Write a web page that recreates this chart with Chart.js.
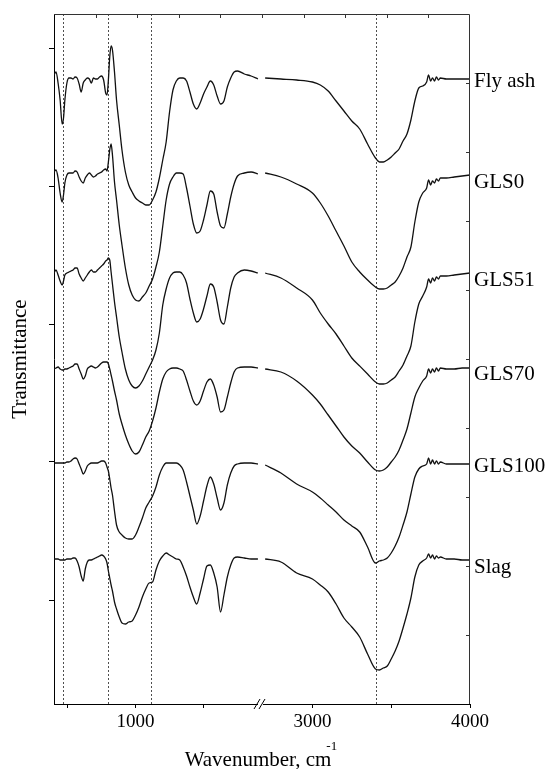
<!DOCTYPE html>
<html>
<head>
<meta charset="utf-8">
<title>FTIR spectra</title>
<script src="https://cdn.jsdelivr.net/npm/chart.js@4.4.0/dist/chart.umd.min.js"></script>
<style>
  html, body { margin: 0; padding: 0; background: #fff; }
  #chart { display: block; }
</style>
</head>
<body>
<canvas id="chart" width="550" height="769"></canvas>
<script>
// Wavenumbers (cm-1) of the sampled points, low range and high range of the broken axis
const waveLow = [400, 415, 430, 445, 460, 470, 480, 495, 510, 525, 540, 555, 570, 585, 600, 615, 630, 645,
    660, 675, 690, 705, 720, 735, 750, 765, 780, 790, 800, 810, 820, 830, 845, 860, 880, 900,
    925, 950, 975, 1000, 1025, 1050, 1075, 1100, 1125, 1150, 1175, 1200, 1225, 1250, 1275, 1300,
    1325, 1350, 1375, 1400, 1425, 1450, 1475, 1500, 1525, 1550, 1575, 1600, 1625, 1650, 1675, 1700,
    1725, 1750, 1800, 1850, 1900];
const waveHigh = [2700, 2800, 2900, 3000, 3050, 3100, 3150, 3200, 3250, 3300, 3350, 3400, 3425, 3450,
    3475, 3500, 3525, 3550, 3575, 3600, 3625, 3650, 3675, 3700,
    3725, 3737, 3750, 3762, 3775, 3787, 3800, 3812, 3850, 3900, 3950, 4000];

const seriesNames = ['Fly ash', 'GLS0', 'GLS51', 'GLS70', 'GLS100', 'Slag'];

// Transmittance (a.u., curves already offset as plotted)
const flyAshLow = [62.9, 63.2, 62.1, 60.4, 58.0, 58.6, 60.4, 62.1, 62.6, 62.6, 62.5, 62.7, 62.6, 62.0, 61.2, 62.1, 62.4, 62.6,
    62.5, 62.1, 62.6, 62.5, 62.5, 62.7, 62.8, 62.4, 61.1, 60.9, 62.4, 64.7, 65.8, 65.4, 63.2, 60.4, 57.9, 55.4,
    53.2, 51.9, 51.2, 50.6, 50.3, 50.1, 49.9, 49.9, 50.4, 51.2, 52.6, 54.4, 56.2, 59.2, 61.4, 62.3,
    62.6, 62.6, 62.3, 61.2, 60.0, 59.5, 60.1, 61.0, 61.7, 62.3, 61.9, 60.8, 60.0, 60.3, 61.7, 62.6,
    63.2, 63.3, 63.0, 62.8, 62.5];
const flyAshHigh = [62.6, 62.5, 62.4, 62.2, 61.9, 61.3, 60.3, 59.3, 58.3, 57.5, 56.0, 54.6, 54.2, 54.2,
    54.4, 54.7, 55.1, 55.5, 56.3, 57.0, 58.4, 60.3, 61.6, 61.8,
    62.2, 62.9, 62.3, 62.6, 62.3, 62.7, 62.4, 62.6, 62.5, 62.5, 62.5, 62.5];

const gls0Low = [53.2, 53.4, 52.6, 51.1, 50.2, 50.9, 52.1, 52.9, 53.1, 53.1, 53.1, 53.3, 53.2, 52.7, 52.3, 52.1, 52.6, 52.9,
    53.1, 52.9, 52.7, 52.8, 53.0, 53.1, 53.2, 53.4, 53.5, 53.3, 54.2, 55.4, 56.0, 54.9, 52.2, 50.4, 47.9, 45.9,
    43.6, 41.9, 40.9, 40.4, 40.3, 40.7, 41.1, 41.8, 42.5, 43.7, 45.2, 47.8, 50.4, 52.0, 52.7, 53.1,
    53.1, 53.0, 51.6, 49.8, 48.0, 47.1, 47.3, 48.4, 49.9, 51.3, 51.0, 49.2, 47.8, 47.6, 49.0, 50.7,
    52.0, 52.8, 53.1, 53.2, 53.0];
const gls0High = [53.1, 52.7, 52.0, 51.1, 50.1, 48.8, 47.3, 45.8, 44.2, 43.2, 42.4, 41.7, 41.5, 41.5,
    41.6, 41.9, 42.2, 42.8, 43.6, 44.7, 45.7, 48.2, 50.2, 51.1,
    51.6, 52.4, 51.9, 52.3, 52.1, 52.5, 52.3, 52.6, 52.6, 52.7, 52.8, 52.9];

const gls51Low = [43.1, 43.4, 42.9, 42.3, 41.9, 42.3, 42.9, 43.1, 43.2, 43.3, 43.4, 43.6, 43.6, 43.0, 42.6, 42.3, 42.6, 42.9,
    43.2, 43.4, 43.2, 43.2, 43.4, 43.6, 43.8, 44.0, 44.3, 44.4, 44.6, 44.4, 43.2, 42.0, 40.2, 38.7, 36.7, 35.2,
    33.5, 32.4, 31.8, 31.6, 31.8, 32.3, 33.0, 33.7, 34.4, 35.4, 37.1, 39.9, 41.5, 42.6, 43.1, 43.2,
    43.2, 42.9, 42.1, 40.5, 39.1, 38.2, 38.5, 39.5, 40.8, 42.0, 41.7, 40.2, 38.4, 38.0, 39.7, 41.6,
    42.7, 43.1, 43.4, 43.3, 43.1];
const gls51High = [43.1, 42.6, 41.6, 40.4, 39.1, 38.0, 37.0, 35.8, 34.6, 33.8, 33.0, 32.2, 32.0, 32.0,
    32.1, 32.4, 32.7, 33.3, 33.9, 34.8, 35.8, 38.2, 40.0, 40.8,
    41.7, 42.5, 42.1, 42.6, 42.3, 42.7, 42.5, 42.8, 42.8, 42.9, 43.0, 43.1];

const gls70Low = [33.5, 33.6, 33.7, 33.5, 33.4, 33.4, 33.5, 33.5, 33.6, 33.7, 33.8, 34.0, 34.0, 33.5, 33.0, 32.5, 32.8, 33.5,
    33.7, 33.8, 33.7, 33.6, 33.7, 33.9, 34.1, 34.2, 34.2, 34.2, 34.0, 33.5, 32.9, 32.3, 31.3, 30.4, 29.0, 28.0,
    26.9, 26.0, 25.3, 25.0, 25.2, 25.9, 26.7, 27.3, 28.3, 29.6, 31.2, 32.5, 33.2, 33.5, 33.6, 33.6,
    33.5, 33.3, 32.4, 31.3, 30.3, 29.9, 30.3, 31.3, 32.2, 32.5, 31.9, 30.7, 29.2, 29.4, 30.7, 32.1,
    33.2, 33.6, 33.7, 33.7, 33.6];
const gls70High = [33.5, 33.2, 32.3, 30.9, 30.0, 28.9, 27.8, 26.7, 25.8, 25.1, 24.2, 23.4, 23.3, 23.4,
    23.7, 24.2, 24.7, 25.4, 26.4, 27.5, 29.1, 30.7, 31.6, 32.3,
    32.8, 33.5, 33.1, 33.5, 33.2, 33.6, 33.3, 33.6, 33.5, 33.5, 33.6, 33.6];

const gls100Low = [24.1, 24.1, 24.1, 24.1, 24.1, 24.1, 24.1, 24.2, 24.2, 24.3, 24.5, 24.6, 24.5, 24.0, 23.5, 23.0, 23.3, 23.8,
    24.0, 24.1, 24.1, 24.1, 24.1, 24.2, 24.3, 24.3, 24.1, 23.7, 23.3, 22.5, 21.6, 20.9, 19.3, 17.9, 17.2, 16.9,
    16.6, 16.5, 16.5, 16.9, 17.7, 18.6, 19.6, 20.2, 20.8, 21.7, 22.9, 23.7, 24.1, 24.1, 24.1, 24.1,
    23.9, 23.4, 22.2, 20.8, 19.4, 18.0, 18.8, 20.3, 21.8, 22.7, 22.0, 20.6, 19.4, 20.1, 21.9, 23.1,
    23.8, 24.0, 24.1, 24.1, 24.0];
const gls100High = [23.9, 23.1, 22.0, 21.2, 20.6, 19.9, 19.2, 18.4, 17.8, 17.2, 15.7, 14.1, 14.3, 14.4,
    14.6, 15.1, 15.8, 16.7, 17.9, 19.2, 21.0, 22.7, 23.5, 23.8,
    24.0, 24.6, 24.0, 24.4, 24.0, 24.3, 24.0, 24.2, 24.0, 24.0, 24.0, 24.0];

const slagLow = [14.5, 14.5, 14.5, 14.4, 14.4, 14.4, 14.4, 14.5, 14.5, 14.5, 14.6, 14.6, 14.3, 13.7, 12.8, 12.3, 13.5, 14.2,
    14.4, 14.4, 14.5, 14.6, 14.7, 14.8, 14.9, 14.8, 14.5, 14.1, 13.3, 12.6, 11.9, 11.3, 10.2, 9.5, 8.7, 8.1,
    8.0, 8.2, 8.3, 8.9, 9.7, 10.7, 11.5, 12.1, 12.2, 13.4, 14.3, 14.8, 15.1, 14.9, 14.7, 14.5,
    14.4, 13.7, 12.8, 11.7, 10.7, 10.0, 11.1, 12.5, 13.8, 13.9, 13.1, 11.7, 9.2, 10.9, 12.7, 13.9,
    14.6, 14.7, 14.6, 14.5, 14.5];
const slagHigh = [14.5, 14.2, 13.1, 12.5, 11.9, 11.2, 10.0, 8.6, 7.7, 6.7, 5.0, 3.5, 3.4, 3.6,
    3.8, 4.5, 5.3, 6.3, 7.6, 9.0, 10.6, 12.7, 13.9, 14.3,
    14.6, 15.0, 14.6, 14.9, 14.5, 14.8, 14.6, 14.7, 14.5, 14.5, 14.4, 14.4];

// Dashed reference lines (cm-1)
const markers = [465, 795, 1110, 3405];

// Axis ticks
const xTickValues = [500, 1000, 1500, 3000, 3500, 4000];
const xTickLabels = ['', '1000', '', '3000', '', '4000'];
const yTickValues = [10.4, 24.2, 38.0, 51.8, 65.6];
const Y_MAX = 69;
const Y_MINOR = 6.9;

// Broken axis: both ranges share half of the width each
const LOW_MIN = 400, LOW_MAX = 1930, HIGH_MIN = 2680, HIGH_MAX = 4000;

function axisPos(w) {
    if (w <= LOW_MAX) return 0.5 * (w - LOW_MIN) / (LOW_MAX - LOW_MIN);
    return 0.5 + 0.5 * (w - HIGH_MIN) / (HIGH_MAX - HIGH_MIN);
}

function buildPoints(low, high) {
    const pts = waveLow.map((w, i) => ({ x: axisPos(w), y: low[i] }));
    pts.push({ x: 0.5, y: null }); // gap at the axis break
    waveHigh.forEach((w, i) => pts.push({ x: axisPos(w), y: high[i] }));
    return pts;
}

const seriesData = [
    buildPoints(flyAshLow, flyAshHigh),
    buildPoints(gls0Low, gls0High),
    buildPoints(gls51Low, gls51High),
    buildPoints(gls70Low, gls70High),
    buildPoints(gls100Low, gls100High),
    buildPoints(slagLow, slagHigh)
];

const SERIF = "'Liberation Serif', 'Times New Roman', serif";
const labelNudge = [2, 7, 7, 6, 2, 7];

/**
 * Frame, inward ticks, dashed markers, axis break, curve labels
 */
const decorations = {
    id: 'decorations',
    beforeDatasetsDraw(chart) {
        const { ctx, chartArea: a, scales: { x } } = chart;
        ctx.save();
        ctx.strokeStyle = '#222';
        ctx.lineWidth = 0.8;
        ctx.setLineDash([2, 2]);
        markers.forEach(w => {
            const px = Math.round(x.getPixelForValue(axisPos(w))) + 0.5;
            ctx.beginPath();
            ctx.moveTo(px, a.top);
            ctx.lineTo(px, a.bottom);
            ctx.stroke();
        });
        ctx.restore();
    },
    afterDraw(chart) {
        const { ctx, chartArea: a, scales: { x, y } } = chart;
        ctx.save();

        // top and right frame
        ctx.strokeStyle = '#333';
        ctx.lineWidth = 1;
        ctx.beginPath();
        ctx.moveTo(a.left, a.top + 0.5);
        ctx.lineTo(a.right - 0.5, a.top + 0.5);
        ctx.lineTo(a.right - 0.5, a.bottom);
        ctx.stroke();

        // inward minor ticks on top and right
        ctx.beginPath();
        for (let k = 1; k < 10; k++) {
            const px = Math.round(x.getPixelForValue(k / 10)) + 0.5;
            ctx.moveTo(px, a.top);
            ctx.lineTo(px, a.top + 4);
        }
        for (let v = Y_MINOR; v < Y_MAX - 0.1; v += Y_MINOR) {
            const py = Math.round(y.getPixelForValue(v)) + 0.5;
            ctx.moveTo(a.right, py);
            ctx.lineTo(a.right - 4, py);
        }
        ctx.stroke();

        // axis break mark
        const bx = x.getPixelForValue(0.5) - 1;
        const by = a.bottom;
        ctx.fillStyle = '#fff';
        ctx.fillRect(bx - 3, by - 2, 5, 4);
        ctx.strokeStyle = '#000';
        ctx.beginPath();
        ctx.moveTo(bx - 7, by + 5);
        ctx.lineTo(bx - 1, by - 5);
        ctx.moveTo(bx - 2, by + 5);
        ctx.lineTo(bx + 4, by - 5);
        ctx.stroke();

        // curve labels
        ctx.fillStyle = '#000';
        ctx.font = '21px ' + SERIF;
        ctx.textAlign = 'left';
        ctx.textBaseline = 'middle';
        chart.data.datasets.forEach((ds, i) => {
            const meta = chart.getDatasetMeta(i);
            const last = meta.data[meta.data.length - 1];
            ctx.fillText(ds.label, a.right + 4, last.y + labelNudge[i]);
        });

        // x axis title with superscript
        const title = 'Wavenumber, cm';
        ctx.font = '21px ' + SERIF;
        ctx.textBaseline = 'alphabetic';
        const tw = ctx.measureText(title).width;
        const tx = (a.left + a.right) / 2 - tw / 2 - 4;
        ctx.fillText(title, tx, 766);
        ctx.font = '13px ' + SERIF;
        ctx.fillText('-1', tx + tw - 5, 750);

        ctx.restore();
    }
};

Chart.defaults.font.family = SERIF;
Chart.defaults.color = '#000';

new Chart(document.getElementById('chart'), {
    type: 'line',
    data: {
        datasets: seriesNames.map((name, i) => ({
            label: name,
            data: seriesData[i],
            borderColor: '#111',
            borderWidth: 1.3,
            pointRadius: 0,
            cubicInterpolationMode: 'monotone',
            fill: false
        }))
    },
    options: {
        responsive: false,
        animation: false,
        devicePixelRatio: 1,
        layout: { padding: { top: 14, right: 80, left: 0, bottom: 0 } },
        plugins: {
            legend: { display: false },
            tooltip: { enabled: false }
        },
        scales: {
            x: {
                type: 'linear',
                min: 0,
                max: 1,
                afterBuildTicks: s => { s.ticks = xTickValues.map(w => ({ value: axisPos(w) })); },
                afterFit: s => { s.height = 65; },
                ticks: {
                    autoSkip: false,
                    maxRotation: 0,
                    padding: 3,
                    font: { size: 19 },
                    callback: (v, i) => xTickLabels[i]
                },
                grid: { drawOnChartArea: false, drawTicks: true, tickLength: 4, color: '#000' },
                border: { display: true, color: '#000', width: 1 }
            },
            y: {
                min: 0,
                max: Y_MAX,
                afterBuildTicks: s => { s.ticks = yTickValues.map(v => ({ value: v })); },
                afterFit: s => { s.width = 54; },
                ticks: { callback: () => '' },
                grid: { drawOnChartArea: false, drawTicks: true, tickLength: 5, color: '#000' },
                border: { display: true, color: '#000', width: 1 },
                title: {
                    display: true,
                    text: 'Transmittance',
                    font: { size: 21 },
                    padding: { top: 8, bottom: 0 }
                }
            }
        }
    },
    plugins: [decorations]
});
</script>
</body>
</html>
